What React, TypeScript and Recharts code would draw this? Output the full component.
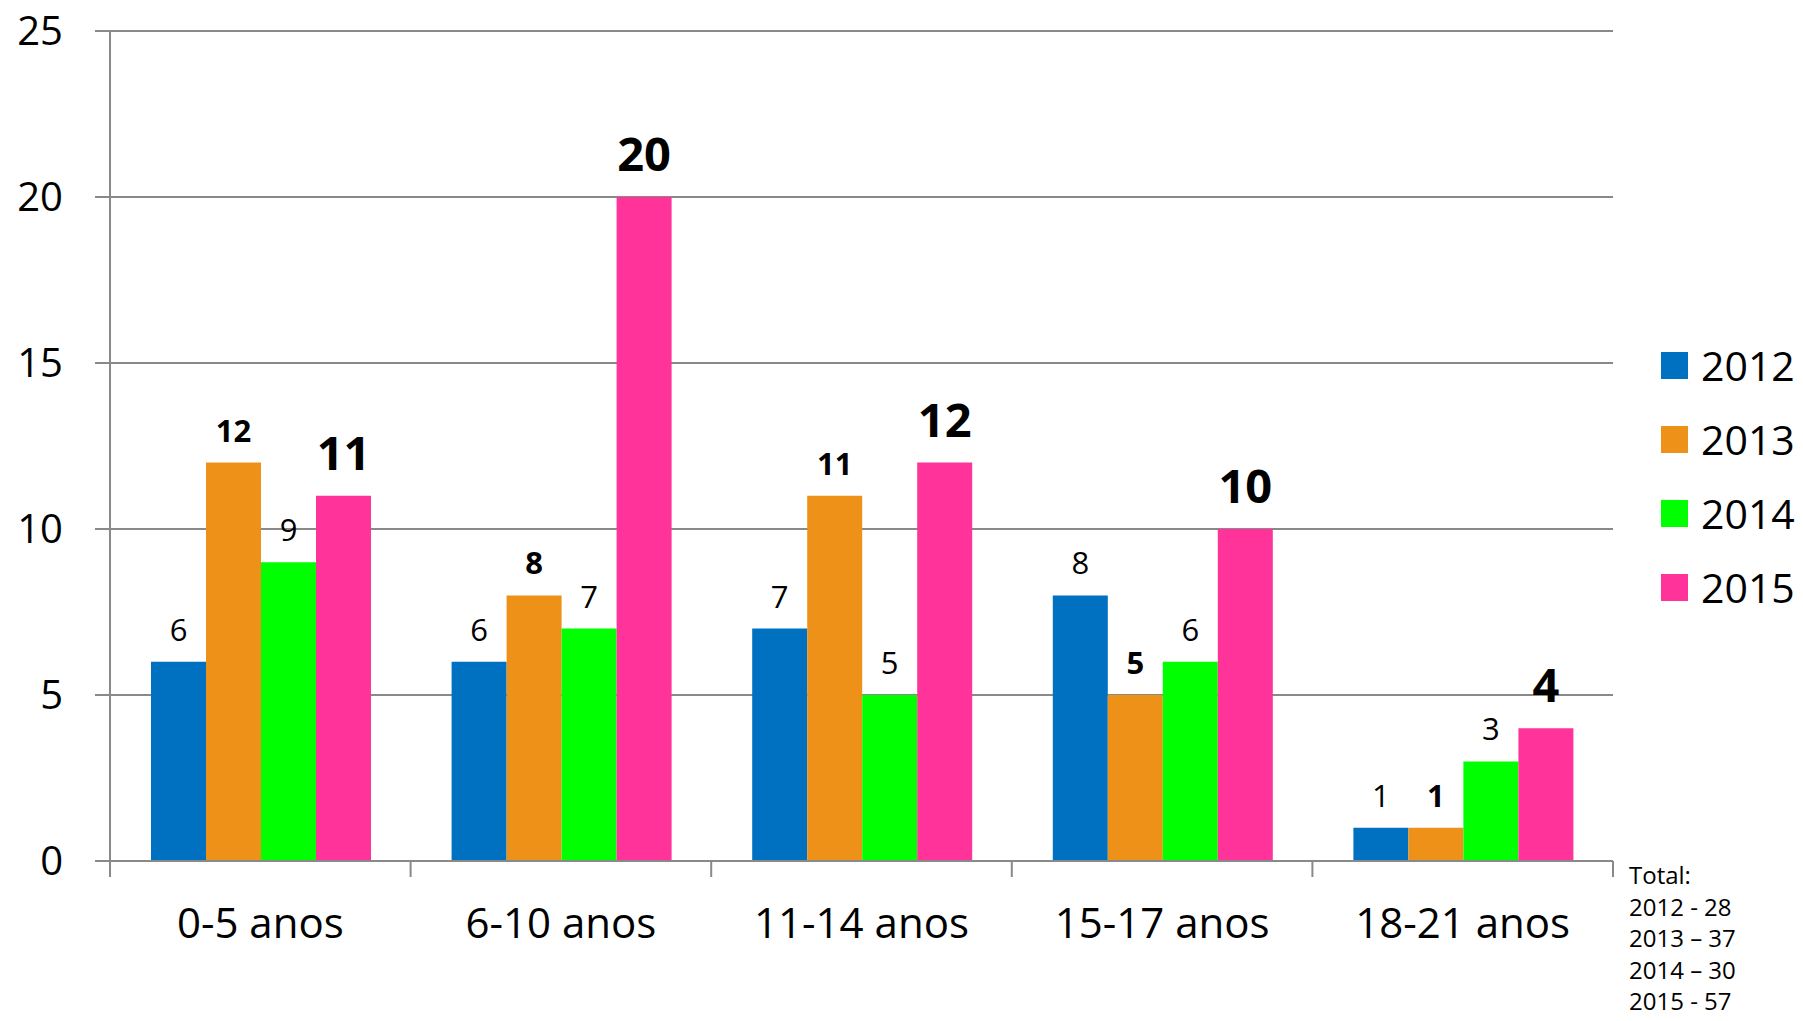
import { BarChart, Bar, XAxis, YAxis, CartesianGrid, LabelList } from 'recharts'

const CATEGORIES = ['0-5 anos', '6-10 anos', '11-14 anos', '15-17 anos', '18-21 anos']
const Y2012 = [6, 6, 7, 8, 1]
const Y2013 = [12, 8, 11, 5, 1]
const Y2014 = [9, 7, 5, 6, 3]
const Y2015 = [11, 20, 12, 10, 4]
const Y_TICKS = [0, 5, 10, 15, 20, 25]
const TOTAL_DASHES = [' - ', ' \u2013 ', ' \u2013 ', ' - ']

const SERIES = [
  { key: 'y2012', name: '2012', values: Y2012, color: '#0070C0', bold: false, big: false },
  { key: 'y2013', name: '2013', values: Y2013, color: '#ED9118', bold: true, big: false },
  { key: 'y2014', name: '2014', values: Y2014, color: '#00FF00', bold: false, big: false },
  { key: 'y2015', name: '2015', values: Y2015, color: '#FF3399', bold: true, big: true },
]

const data = CATEGORIES.map((category, i) => {
  const row: Record<string, string | number> = { category }
  SERIES.forEach(s => { row[s.key] = s.values[i] })
  return row
})

const FONT = '"Open Sans", "Noto Sans", sans-serif'
const GRAY = '#898989'
const W = 1803
const H = 1021
const PLOT_LEFT = 110
const PLOT_RIGHT = 1613
const CAT_W = (PLOT_RIGHT - PLOT_LEFT) / CATEGORIES.length

function CategoryTick(props: any) {
  const { x, y, payload, index } = props
  const half = CAT_W / 2
  return (
    <g>
      <line x1={x - half} x2={x - half} y1={y} y2={y + 16} stroke={GRAY} strokeWidth={2} />
      {index === CATEGORIES.length - 1 && (
        <line x1={x + half} x2={x + half} y1={y} y2={y + 16} stroke={GRAY} strokeWidth={2} />
      )}
      <text x={x} y={y + 77} textAnchor="middle" fontSize={42} fontFamily={FONT} fill="#000">
        {payload.value}
      </text>
    </g>
  )
}

export default function App() {
  return (
    <div style={{ position: 'absolute', left: 0, top: 0, width: W, height: H, background: '#fff', fontFamily: FONT }}>
      <BarChart
        width={W}
        height={H}
        data={data}
        margin={{ top: 31, right: W - PLOT_RIGHT, left: 0, bottom: 100 }}
        barCategoryGap={41}
        barGap={0}
      >
        <CartesianGrid vertical={false} stroke={GRAY} strokeWidth={2} />
        <XAxis
          dataKey="category"
          height={60}
          interval={0}
          tickLine={false}
          tickSize={0}
          tickMargin={0}
          axisLine={{ stroke: GRAY, strokeWidth: 2 }}
          tick={<CategoryTick />}
        />
        <YAxis
          width={PLOT_LEFT}
          domain={[0, 25]}
          ticks={Y_TICKS}
          interval={0}
          tickSize={15}
          tickMargin={32}
          axisLine={{ stroke: GRAY, strokeWidth: 2 }}
          tickLine={{ stroke: GRAY, strokeWidth: 2 }}
          tick={{ fontSize: 40, fontFamily: FONT, fill: '#000' }}
        />
        {SERIES.map(s => (
          <Bar key={s.key} dataKey={s.key} name={s.name} fill={s.color} isAnimationActive={false}>
            <LabelList
              dataKey={s.key}
              position="top"
              offset={s.big ? 26 : 21}
              fontSize={s.big ? 47 : 31}
              fontWeight={s.bold ? 700 : 400}
              fontFamily={FONT}
              fill="#000"
            />
          </Bar>
        ))}
      </BarChart>

      {/* legend */}
      <div style={{ position: 'absolute', left: 1661, top: 328 }}>
        {SERIES.map(s => (
          <div key={s.key} style={{ display: 'flex', alignItems: 'center', height: 74 }}>
            <div style={{ width: 27, height: 27, background: s.color, marginRight: 13 }} />
            <span style={{ fontSize: 41, lineHeight: '41px', color: '#000' }}>{s.name}</span>
          </div>
        ))}
      </div>

      {/* totals */}
      <div style={{ position: 'absolute', left: 1629, top: 859, fontSize: 24, lineHeight: '31.5px', color: '#000', whiteSpace: 'pre' }}>
        <div>Total:</div>
        {SERIES.map((s, i) => (
          <div key={s.key}>{s.name + TOTAL_DASHES[i] + s.values.reduce((a, b) => a + b, 0)}</div>
        ))}
      </div>
    </div>
  )
}
